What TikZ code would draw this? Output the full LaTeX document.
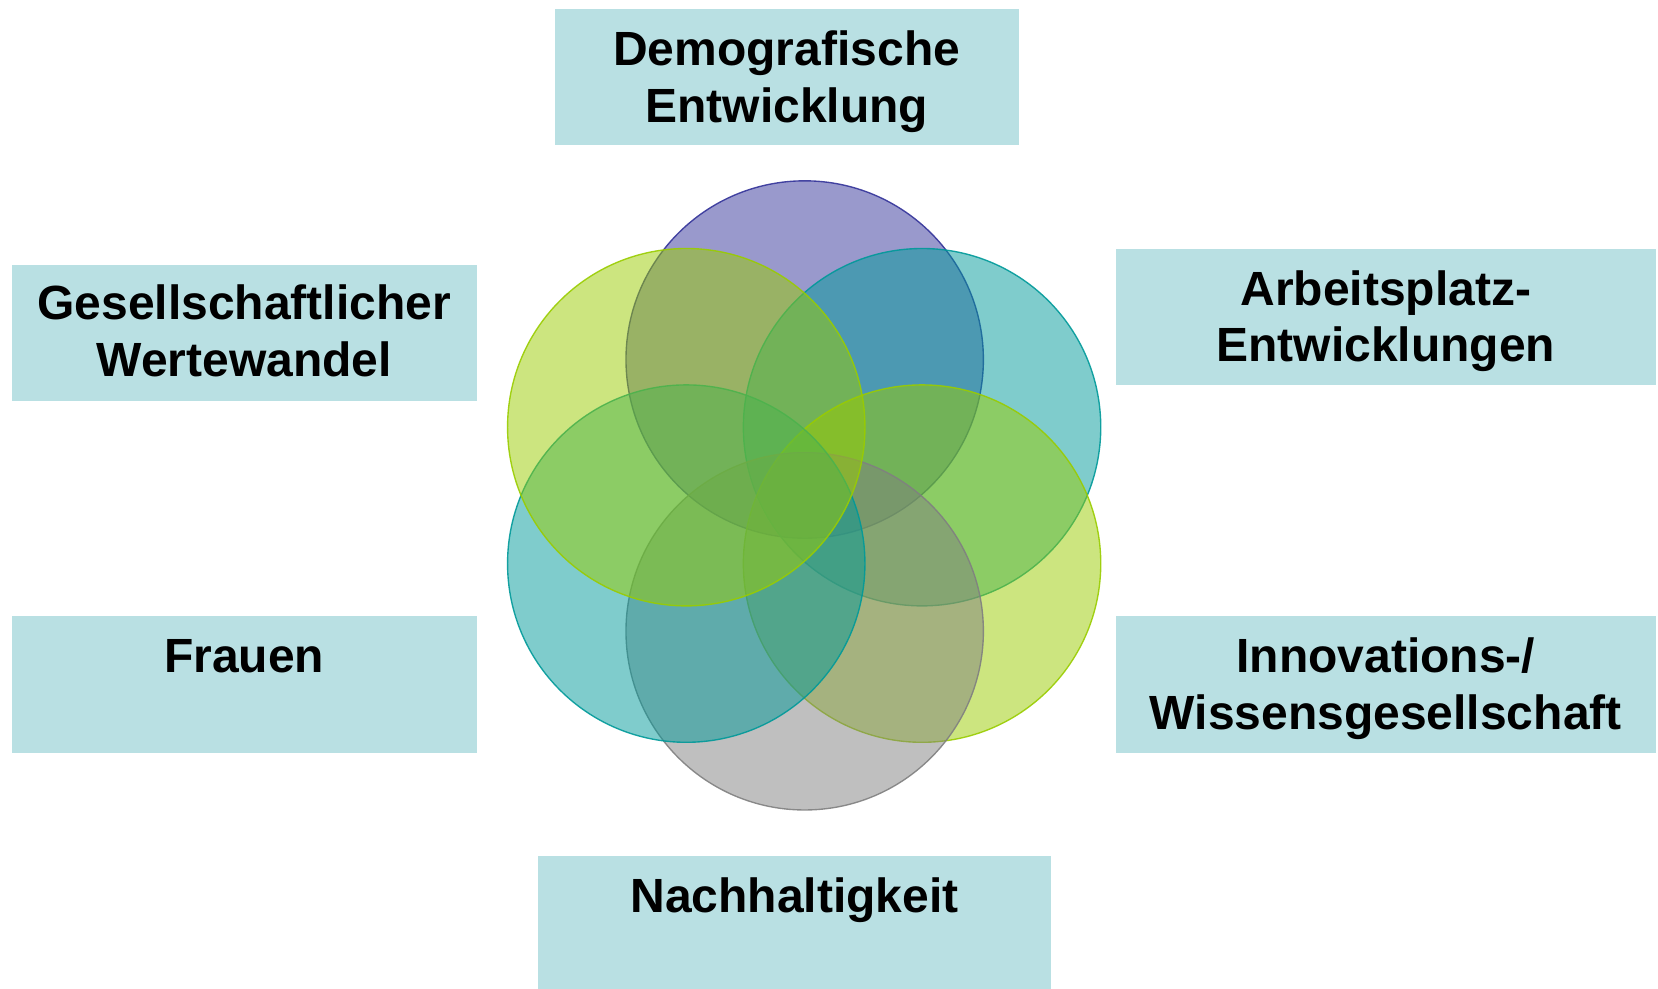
\documentclass[tikz,border=0pt]{standalone}
\usepackage{fontspec}
\setmainfont{Liberation Sans}
\definecolor{boxfill}{RGB}{185,224,227}
\definecolor{cpurple}{RGB}{51,51,153}
\definecolor{cteal}{RGB}{0,153,153}
\definecolor{cyellow}{RGB}{153,204,0}
\definecolor{cgray}{RGB}{128,128,128}
\tikzset{
  box/.style={fill=boxfill, draw=none, anchor=north west, inner sep=0pt},
  lbl/.style={anchor=base, inner sep=0pt, font=\fontsize{45.4}{54}\selectfont\bfseries, text=black},
  ring/.style={circle, minimum size=338pt, inner sep=0pt, fill=#1, fill opacity=0.5, draw=#1, line width=1.3pt, draw opacity=0.9}
}
\begin{document}
\begin{tikzpicture}[x=1pt,y=-1pt]
\useasboundingbox (0,0) rectangle (1568,935);
% boxes
\node[box, minimum width=438pt, minimum height=129pt] (bTop) at (525,8) {};
\node[box, minimum width=440pt, minimum height=129pt] (bUL) at (11,250) {};
\node[box, minimum width=511pt, minimum height=129pt] (bUR) at (1055,235) {};
\node[box, minimum width=440pt, minimum height=130pt] (bLL) at (11,582) {};
\node[box, minimum width=511pt, minimum height=130pt] (bLR) at (1055,582) {};
\node[box, minimum width=485pt, minimum height=126pt] (bBot) at (509,809) {};
% labels
\node[lbl] (tTop1) at (744,62.4) {Demografische};
\node[lbl] (tTop2) at (744,116) {Entwicklung};
\node[lbl] (tUL1) at (231,302.5) {Gesellschaftlicher};
\node[lbl] (tUL2) at (231,356) {Wertewandel};
\node[lbl] (tUR1) at (1310.5,288.5) {Arbeitsplatz-};
\node[lbl] (tUR2) at (1310.5,342) {Entwicklungen};
\node[lbl] (tLL1) at (231,636) {Frauen};
\node[lbl] (tLR1) at (1310.5,636) {Innovations-/};
\node[lbl] (tLR2) at (1310.5,690) {Wissensgesellschaft};
\node[lbl] (tBot1) at (751.5,863) {Nachhaltigkeit};
% circles
\node[ring=cpurple] (cT) at (761,340) {};
\node[ring=cteal] (cUR) at (872,404) {};
\node[ring=cyellow] (cLR) at (872,533) {};
\node[ring=cgray] (cB) at (761,597) {};
\node[ring=cteal] (cLL) at (649,533) {};
\node[ring=cyellow] (cUL) at (649,404) {};
\end{tikzpicture}
\end{document}
